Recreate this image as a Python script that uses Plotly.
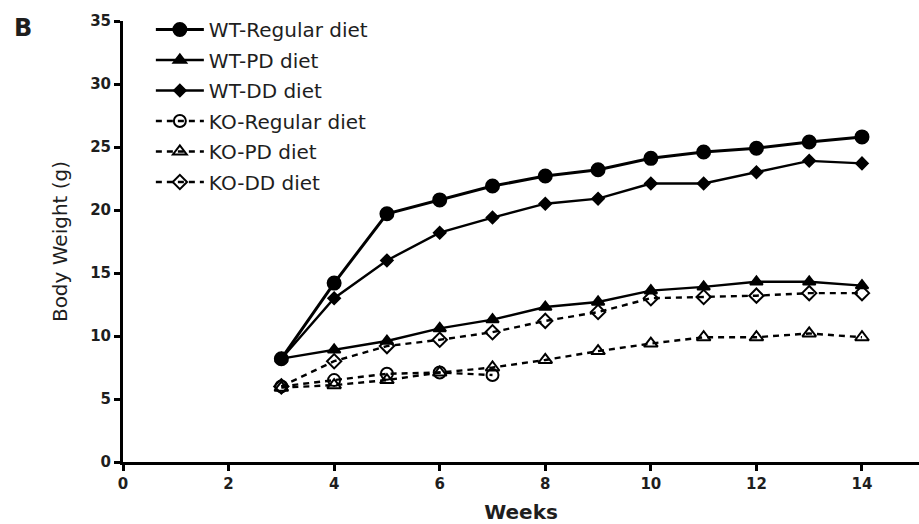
import plotly.graph_objects as go

weeks = [3, 4, 5, 6, 7, 8, 9, 10, 11, 12, 13, 14]
weeks_ko_regular = [3, 4, 5, 6, 7]

wt_regular = [8.2, 14.2, 19.7, 20.8, 21.9, 22.7, 23.2, 24.1, 24.6, 24.9, 25.4, 25.8]
wt_pd = [8.2, 8.9, 9.6, 10.6, 11.3, 12.3, 12.7, 13.6, 13.9, 14.3, 14.3, 14.0]
wt_dd = [8.2, 13.0, 16.0, 18.2, 19.4, 20.5, 20.9, 22.1, 22.1, 23.0, 23.9, 23.7]
ko_regular = [6.0, 6.5, 7.0, 7.1, 6.9]
ko_pd = [5.9, 6.1, 6.5, 7.1, 7.5, 8.1, 8.8, 9.4, 9.9, 9.9, 10.2, 9.9]
ko_dd = [6.0, 8.0, 9.2, 9.7, 10.3, 11.2, 11.9, 13.0, 13.1, 13.2, 13.4, 13.4]

series = [
    ("WT-Regular diet", weeks, wt_regular, "circle", 13, "solid", 3.0),
    ("WT-PD diet", weeks, wt_pd, "triangle-up", 11, "solid", 2.4),
    ("WT-DD diet", weeks, wt_dd, "diamond", 9, "solid", 2.4),
    ("KO-Regular diet", weeks_ko_regular, ko_regular, "circle-open", 12, "dash", 2.4),
    ("KO-PD diet", weeks, ko_pd, "triangle-up-open", 12, "dash", 2.4),
    ("KO-DD diet", weeks, ko_dd, "diamond-open", 11, "dash", 2.4),
]

FONT = "DejaVu Sans, Liberation Sans, Arial, sans-serif"
INK = "#1e1e1e"

fig = go.Figure()
for i, (name, x, y, sym, size, dash, width) in enumerate(series):
    fig.add_trace(go.Scatter(
        x=x, y=y, name=name, mode="lines+markers",
        legendgroup=f"g{i}",
        line=dict(color="black", width=width, dash="6px,5px" if dash == "dash" else "solid"),
        marker=dict(symbol=sym, size=size, color="black",
                    line=dict(color="black", width=2)),
    ))

fig.update_layout(
    width=919, height=524,
    margin=dict(l=123, r=0, t=21, b=62),
    paper_bgcolor="white", plot_bgcolor="white",
    font=dict(family=FONT, color=INK),
    showlegend=True,
    legend=dict(
        x=0.035, y=1.025, xanchor="left", yanchor="top",
        font=dict(size=20, color=INK),
        tracegroupgap=1.5, bgcolor="rgba(0,0,0,0)",
        itemwidth=48,
    ),
    annotations=[dict(
        text="<b>B</b>", xref="paper", yref="paper",
        x=(12 - 123) / 796, y=1.0 + (21 - 28) / 441,
        xanchor="left", yanchor="middle", showarrow=False,
        font=dict(size=24, color=INK, family=FONT),
    )],
)

fig.update_xaxes(
    range=[0, 15.08], tickmode="array", tickvals=[0, 2, 4, 6, 8, 10, 12, 14],
    showline=True, linecolor="black", linewidth=3,
    ticks="outside", ticklen=6, tickwidth=3, tickcolor="black",
    showgrid=False, zeroline=False,
    tickfont=dict(size=15, color=INK, weight="bold"),
    title=dict(text="<b>Weeks</b>", font=dict(size=20, color=INK), standoff=16),
)
fig.update_yaxes(
    range=[0, 35], tickmode="array", tickvals=[0, 5, 10, 15, 20, 25, 30, 35],
    showline=True, linecolor="black", linewidth=3,
    ticks="outside", ticklen=6, tickwidth=3, tickcolor="black",
    showgrid=False, zeroline=False,
    tickfont=dict(size=15, color=INK, weight="bold"),
    title=dict(text="Body Weight (g)", font=dict(size=20, color=INK), standoff=18),
)

fig.write_html("out.html")
